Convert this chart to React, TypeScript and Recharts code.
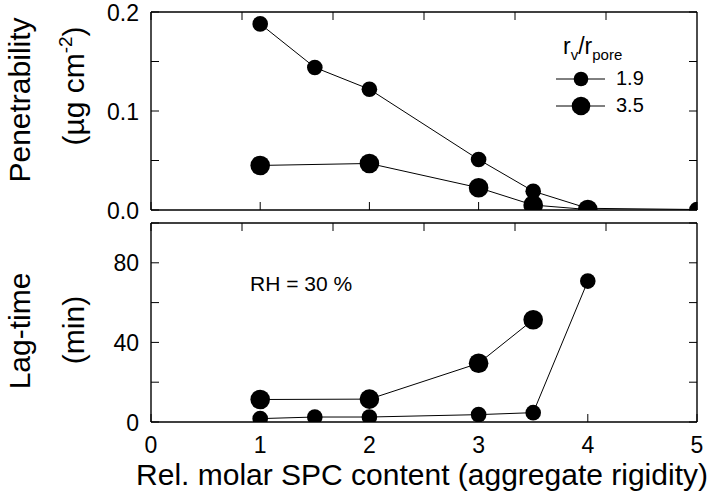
import React from "react";
import { LineChart, Line, XAxis, YAxis, Legend, Label } from "recharts";

// SPC content (x) shared by both panels
const spcContent = [1, 1.5, 2, 3, 3.5, 4, 5];

// penetrability, ug cm^-2
const penSmall = [0.188, 0.144, 0.122, 0.051, 0.019, 0.0017, 0.0005];
const penLarge = [0.045, null, 0.047, 0.0225, 0.005, 0.0005, null];

// lag-time, min
const lagSmall = [1.7, 2.5, 2.5, 3.7, 4.7, 70.8, null];
const lagLarge = [11.3, null, 11.5, 29.5, 51.4, null, null];

const xTicks = [0, 1, 2, 3, 4, 5];
const penTicks = [0, 0.05, 0.1, 0.15, 0.2];
const penTickLabels: Record<string, string> = { "0": "0.0", "0.1": "0.1", "0.2": "0.2" };
const lagTicks = [0, 20, 40, 60, 80, 100];
const lagTickLabels: Record<string, string> = { "0": "0", "40": "40", "80": "80" };

const ratioNames = ["1.9", "3.5"];
const dotRadius = [7.8, 9.8];

const FONT = "'Liberation Sans', Arial, sans-serif";
const INK = "#000";

const axisLine = { stroke: INK, strokeWidth: 1.4 };
const tickLine = { stroke: INK, strokeWidth: 1 };

const noTick = () => <g />;

const leftTick = (labels: Record<string, string>) => (props: any) => {
  const txt = labels[String(props.payload.value)];
  if (!txt) return <g />;
  return (
    <text x={props.x} y={props.y} dy={8.5} textAnchor="end" fontSize={23} fontFamily={FONT} fill={INK}>
      {txt}
    </text>
  );
};

const bottomTick = (props: any) => (
  <text x={props.x} y={props.y} dy={31} textAnchor="middle" fontSize={23} fontFamily={FONT} fill={INK}>
    {props.payload.value}
  </text>
);

const penTitle = () => (
  <g fontFamily={FONT} fontSize={30} fill={INK}>
    <text transform="translate(30,100) rotate(-90)" textAnchor="middle">Penetrability</text>
    <text transform="translate(84,86) rotate(-90)" textAnchor="middle">
      (µg cm<tspan dy={-12} fontSize={19}>-2</tspan>
      <tspan dy={12}>)</tspan>
    </text>
  </g>
);

const lagTitle = () => (
  <g fontFamily={FONT} fontSize={30} fill={INK}>
    <text transform="translate(30,119) rotate(-90)" textAnchor="middle">Lag-time</text>
    <text transform="translate(84,118) rotate(-90)" textAnchor="middle">(min)</text>
  </g>
);

const xTitle = () => (
  <text x={422} y={273} textAnchor="middle" fontFamily={FONT} fontSize={30} fill={INK}>
    Rel. molar SPC content (aggregate rigidity)
  </text>
);

function RatioLegend() {
  return (
    <div style={{ fontFamily: FONT, color: INK, width: 130 }}>
      <div style={{ fontSize: 23, paddingLeft: 10, height: 32, lineHeight: "26px" }}>
        r<sub style={{ fontSize: 15 }}>v</sub>/r<sub style={{ fontSize: 15 }}>pore</sub>
      </div>
      {ratioNames.map((name, i) => (
        <div key={name} style={{ display: "flex", alignItems: "center", height: 27 }}>
          <svg width={56} height={24}>
            <line x1={3} y1={12} x2={52} y2={12} stroke={INK} strokeWidth={1} />
            <circle cx={28} cy={12} r={dotRadius[i] - 0.5} fill={INK} />
          </svg>
          <span style={{ fontSize: 20, marginLeft: 7 }}>{name}</span>
        </div>
      ))}
    </div>
  );
}

export default function App() {
  const penRows = spcContent.map((x, i) => ({ x, small: penSmall[i], large: penLarge[i] }));
  const lagRows = spcContent.map((x, i) => ({ x, small: lagSmall[i], large: lagLarge[i] }));

  const frame = (yId: string, yDomain: number[], yTicks: number[], labels: Record<string, string>, title: () => any, bottomLabels: boolean) => [
    <XAxis
      key="xb"
      xAxisId="b"
      dataKey="x"
      type="number"
      domain={[0, 5]}
      ticks={xTicks}
      interval={0}
      allowDataOverflow
      height={bottomLabels ? 76 : 12}
      tickSize={-8}
      tickMargin={8}
      axisLine={axisLine}
      tickLine={tickLine}
      tick={bottomLabels ? bottomTick : noTick}
    >
      {bottomLabels ? <Label content={xTitle} /> : null}
    </XAxis>,
    <XAxis
      key="xt"
      xAxisId="t"
      orientation="top"
      type="number"
      domain={[0, 5]}
      ticks={xTicks}
      interval={0}
      allowDataOverflow
      height={1}
      tickSize={-8}
      axisLine={axisLine}
      tickLine={tickLine}
      tick={noTick}
    />,
    <YAxis
      key="yl"
      yAxisId={yId}
      type="number"
      domain={yDomain}
      ticks={yTicks}
      interval={0}
      allowDataOverflow
      width={151}
      tickSize={-8}
      tickMargin={20}
      axisLine={axisLine}
      tickLine={tickLine}
      tick={leftTick(labels)}
    >
      <Label content={title} />
    </YAxis>,
    <YAxis
      key="yr"
      yAxisId="r"
      orientation="right"
      type="number"
      domain={yDomain}
      ticks={yTicks}
      interval={0}
      allowDataOverflow
      width={1}
      tickSize={-8}
      axisLine={axisLine}
      tickLine={tickLine}
      tick={noTick}
    />,
  ];

  return (
    <div style={{ position: "absolute", left: 0, top: 0, width: 720, height: 498, background: "#fff", fontFamily: FONT }}>
      <div style={{ position: "absolute", left: 0, top: 0 }}>
        <LineChart width={720} height={222} data={penRows} margin={{ top: 11, right: 22, bottom: 0, left: 0 }}>
          {frame("l", [0, 0.2], penTicks, penTickLabels, penTitle, false)}
          <Legend
            layout="vertical"
            align="center"
            verticalAlign="middle"
            content={() => <RatioLegend />}
            wrapperStyle={{ left: 553, top: 33, width: 130 }}
          />
          <Line xAxisId="b" yAxisId="l" name={ratioNames[0]} dataKey="small" stroke={INK} strokeWidth={1}
            dot={{ r: dotRadius[0], fill: INK, stroke: "none" }} activeDot={false} isAnimationActive={false} />
          <Line xAxisId="b" yAxisId="l" name={ratioNames[1]} dataKey="large" connectNulls stroke={INK} strokeWidth={1}
            dot={{ r: dotRadius[1], fill: INK, stroke: "none" }} activeDot={false} isAnimationActive={false} />
        </LineChart>
      </div>
      <div style={{ position: "absolute", left: 0, top: 212 }}>
        <LineChart width={720} height={286} data={lagRows} margin={{ top: 10, right: 22, bottom: 0, left: 0 }}>
          {frame("l", [0, 100], lagTicks, lagTickLabels, lagTitle, true)}
          <Line xAxisId="b" yAxisId="l" name={ratioNames[0]} dataKey="small" connectNulls stroke={INK} strokeWidth={1}
            dot={{ r: dotRadius[0], fill: INK, stroke: "none" }} activeDot={false} isAnimationActive={false} />
          <Line xAxisId="b" yAxisId="l" name={ratioNames[1]} dataKey="large" connectNulls stroke={INK} strokeWidth={1}
            dot={{ r: dotRadius[1], fill: INK, stroke: "none" }} activeDot={false} isAnimationActive={false} />
        </LineChart>
      </div>
      <div style={{ position: "absolute", left: 250, top: 272, fontSize: 21, color: INK, lineHeight: "24px" }}>
        RH = 30 %
      </div>
    </div>
  );
}
